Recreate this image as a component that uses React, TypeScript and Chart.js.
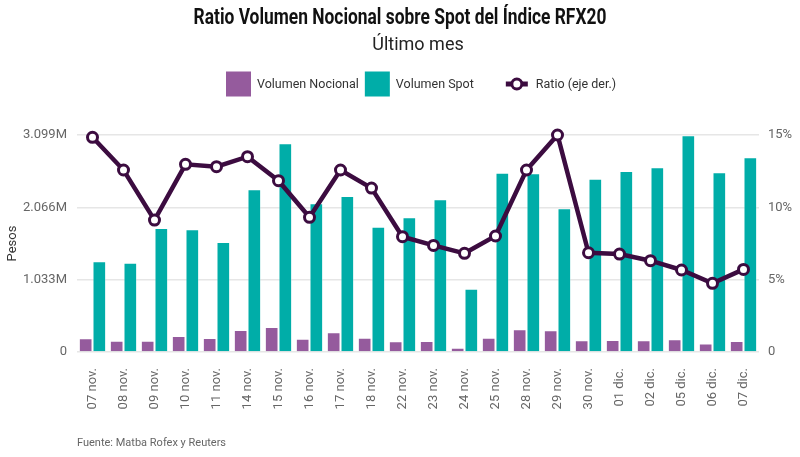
import { useEffect, useRef } from 'react'
import { Chart, registerables } from 'chart.js'

Chart.register(...registerables)

const labels = [
  '07 nov.', '08 nov.', '09 nov.', '10 nov.', '11 nov.', '14 nov.', '15 nov.', '16 nov.',
  '17 nov.', '18 nov.', '22 nov.', '23 nov.', '24 nov.', '25 nov.', '28 nov.', '29 nov.',
  '30 nov.', '01 dic.', '02 dic.', '05 dic.', '06 dic.', '07 dic.'
]

// pesos
const volumenNocional = [
  195000, 162000, 162000, 229000, 200000, 314000, 357000, 190000, 281000, 205000, 152000,
  157000, 60000, 205000, 324000, 310000, 167000, 171000, 167000, 181000, 120000, 157000
]
const volumenSpot = [
  1295000, 1276000, 1771000, 1752000, 1571000, 2323000, 2980000, 2123000, 2228000, 1790000, 1923000,
  2180000, 905000, 2561000, 2552000, 2052000, 2475000, 2585000, 2638000, 3095000, 2566000, 2780000
]
// %
const ratio = [
  14.84, 12.58, 9.12, 12.97, 12.81, 13.5, 11.84, 9.31, 12.58, 11.33, 7.97,
  7.37, 6.82, 8.02, 12.58, 15.0, 6.86, 6.77, 6.31, 5.67, 4.75, 5.71
]

const pesosTicks = [0, 1033000, 2066000, 3099000]
const ratioTicks = [0, 5, 10, 15]

const TITLE = 'Ratio Volumen Nocional sobre Spot del Índice RFX20'
const SUBTITLE = 'Último mes'
const SOURCE = 'Fuente: Matba Rofex y Reuters'

const PURPLE = '#955b9d'
const TEAL = '#00ada8'
const DARK = '#3c0c40'
const tickFont = { family: 'Roboto', size: 13 }

// no condensed face installed, so squeeze Roboto a bit
const fillSqueezed = (ctx, text, x, y, sx) => {
  ctx.save()
  ctx.translate(x, y)
  ctx.scale(sx, 1)
  ctx.fillText(text, 0, 0)
  ctx.restore()
}

// title, legend and source line drawn on the canvas
const extrasPlugin = {
  id: 'extras',
  afterDraw(chart) {
    const { ctx } = chart
    ctx.save()

    ctx.textAlign = 'center'
    ctx.textBaseline = 'alphabetic'
    ctx.fillStyle = '#111'
    ctx.font = 'bold 22px Roboto'
    fillSqueezed(ctx, TITLE, 400, 24, 0.79)
    ctx.fillStyle = '#222'
    ctx.font = '18px Roboto'
    ctx.fillText(SUBTITLE, 418, 50)

    ctx.textAlign = 'left'
    ctx.textBaseline = 'middle'
    ctx.font = '12.5px Roboto'
    let x = 226
    const y = 84
    chart.data.datasets.forEach((ds) => {
      if (ds.type === 'bar') {
        ctx.fillStyle = ds.backgroundColor
        ctx.fillRect(x, y - 12.5, 25, 25)
        ctx.fillStyle = '#333'
        ctx.fillText(ds.label, x + 31, y + 1)
        x += 31 + ctx.measureText(ds.label).width + 6
      } else {
        x += 26
        ctx.strokeStyle = DARK
        ctx.lineWidth = 5
        ctx.beginPath()
        ctx.moveTo(x, y)
        ctx.lineTo(x + 22, y)
        ctx.stroke()
        ctx.beginPath()
        ctx.arc(x + 11, y, 5, 0, Math.PI * 2)
        ctx.fillStyle = '#fff'
        ctx.fill()
        ctx.lineWidth = 3
        ctx.stroke()
        ctx.fillStyle = '#333'
        ctx.fillText(ds.label, x + 30, y + 1)
      }
    })

    ctx.textBaseline = 'alphabetic'
    ctx.font = '11px Roboto'
    ctx.fillStyle = '#666'
    ctx.fillText(SOURCE, 77, 446)
    ctx.restore()
  }
}

const RatioChart = () => {
  const chartRef = useRef(null)
  const chartInstance = useRef(null)

  useEffect(() => {
    document.body.style.margin = '0'
    if (chartInstance.current) {
      chartInstance.current.destroy()
    }
    chartInstance.current = new Chart(chartRef.current, {
      type: 'bar',
      data: {
        labels,
        datasets: [
          {
            type: 'bar',
            label: 'Volumen Nocional',
            data: volumenNocional,
            backgroundColor: PURPLE,
            borderColor: 'rgba(255,255,255,0.35)',
            borderWidth: 1,
            categoryPercentage: 0.88,
            barPercentage: 1,
            yAxisID: 'y',
            order: 2
          },
          {
            type: 'bar',
            label: 'Volumen Spot',
            data: volumenSpot,
            backgroundColor: TEAL,
            borderColor: 'rgba(255,255,255,0.35)',
            borderWidth: 1,
            categoryPercentage: 0.88,
            barPercentage: 1,
            yAxisID: 'y',
            order: 2
          },
          {
            type: 'line',
            label: 'Ratio (eje der.)',
            data: ratio,
            borderColor: DARK,
            borderWidth: 4.5,
            pointRadius: 5,
            pointBackgroundColor: '#fff',
            pointBorderColor: DARK,
            pointBorderWidth: 3,
            tension: 0,
            clip: false,
            yAxisID: 'y1',
            order: 1
          }
        ]
      },
      options: {
        responsive: true,
        maintainAspectRatio: false,
        animation: false,
        events: [],
        layout: { padding: { top: 135 } },
        plugins: {
          legend: { display: false },
          tooltip: { enabled: false }
        },
        scales: {
          x: {
            grid: { display: false, drawTicks: false },
            border: { display: false },
            ticks: { autoSkip: false, minRotation: 90, maxRotation: 90, padding: 16, color: '#666', font: tickFont },
            afterFit: (s) => { s.height = 105 }
          },
          y: {
            position: 'left',
            min: 0,
            max: 3099000,
            afterBuildTicks: (s) => { s.ticks = pesosTicks.map((v) => ({ value: v })) },
            ticks: {
              padding: 10,
              color: '#666',
              font: tickFont,
              callback: (v) => (v === 0 ? '0' : (v / 1e6).toFixed(3) + 'M')
            },
            grid: { color: '#e6e6e6', lineWidth: 1.5, drawTicks: false },
            border: { display: false },
            title: { display: true, text: 'Pesos', color: '#333', font: { family: 'Roboto', size: 13 }, padding: { top: 5, bottom: 0 } },
            afterFit: (s) => { s.width = 77 }
          },
          y1: {
            position: 'right',
            min: 0,
            max: 15,
            afterBuildTicks: (s) => { s.ticks = ratioTicks.map((v) => ({ value: v })) },
            ticks: {
              padding: 9,
              color: '#666',
              font: tickFont,
              callback: (v) => (v === 0 ? '0' : v + '%')
            },
            grid: { display: false, drawTicks: false },
            border: { display: false },
            afterFit: (s) => { s.width = 41 }
          }
        }
      },
      plugins: [extrasPlugin]
    })

    return () => {
      if (chartInstance.current) {
        chartInstance.current.destroy()
        chartInstance.current = null
      }
    }
  }, [])

  return (
    <div style={{ position: 'relative', width: 800, height: 457 }}>
      <canvas ref={chartRef} />
    </div>
  )
}

export default function App() {
  return <RatioChart />
}
